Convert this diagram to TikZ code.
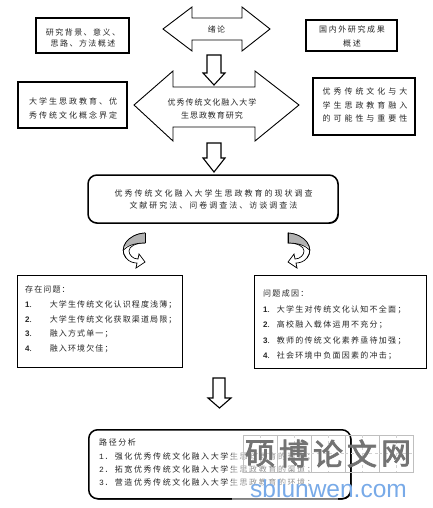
\documentclass[tikz,border=0pt]{standalone}
\usepackage{fontspec}
\newfontfamily\cjk{Noto Sans CJK SC}
\newfontfamily\cjkbold[FakeBold=2.5]{Noto Sans CJK SC}
\newfontfamily\numfont{Liberation Sans}
\newfontfamily\monofont{Liberation Mono}
\newcommand\cf[3]{\fontsize{#1}{#2}\selectfont\cjk\addfontfeatures{LetterSpace=#3}}
\newcommand\nb[1]{{\numfont\bfseries #1}}
\newcommand\nm[1]{{\monofont #1}}
\usetikzlibrary{shadows}
\definecolor{wmblue}{RGB}{120,170,232}
\begin{document}
\begin{tikzpicture}[x=1pt,y=-1pt,
  txt/.style={inner sep=0pt, text=black!85, align=center},
  ltxt/.style={inner sep=0pt, text=black!85, align=left, anchor=north west},
  box/.style={draw, line width=1.3pt, fill=white, inner sep=0pt,
     drop shadow={shadow xshift=0.8pt, shadow yshift=-0.8pt, fill=black, opacity=1}},
  rbox/.style={box, rounded corners=9pt},
  blockarrow/.style={draw, line width=0.9pt, fill=white, line join=miter},
  smallarrow/.style={draw, line width=1.1pt, fill=white, line join=miter},
  twist/.style={draw, line width=0.7pt, fill=white}
]
\useasboundingbox (0,0) rectangle (432,508);

% ---- row 1
\draw[blockarrow] (163,29) -- (192,7) -- (192,18) -- (242,18) -- (242,7) -- (270,29)
  -- (242,51) -- (242,40) -- (192,40) -- (192,51) -- cycle;
\node[txt, font=\cf{8}{11}{18}] (t1) at (216.5,29) {绪论};

\node[box, minimum width=93, minimum height=35] (b1) at (82.5,35.5) {};
\node[txt, font=\cf{8}{11}{18}] (t1a) at (83,38) {研究背景、意义、\\思路、方法概述};

\node[box, minimum width=91, minimum height=31] (b2) at (351.5,35.5) {};
\node[txt, font=\cf{8}{14}{20}] (t2a) at (352,36) {国内外研究成果\\概述};

% ---- row 2
\draw[blockarrow] (134,105) -- (173,71) -- (173,87) -- (255,87) -- (255,71) -- (299,105)
  -- (255,141) -- (255,127) -- (173,127) -- (173,141) -- cycle;
\node[txt, font=\cf{8}{13}{12}] (t3) at (212,108.5) {优秀传统文化融入大学\\生思政教育研究};

\draw[smallarrow] (207,55) -- (221,55) -- (221,73) -- (225,73) -- (214,85) -- (203,73) -- (207,73) -- cycle;

\node[box, minimum width=109, minimum height=46] (b4) at (72.5,105) {};
\node[txt, font=\cf{8}{14}{25}] (t4) at (73,108) {大学生思政教育、优\\秀传统文化概念界定};

\node[box, minimum width=102, minimum height=57] (b5) at (364,106.5) {};
\node[txt, font=\cf{8}{13.5}{37}] (t5) at (365,105) {优秀传统文化与大\\学生思政教育融入\\的可能性与重要性};

\draw[smallarrow] (207,143) -- (221,143) -- (221,158) -- (225,158) -- (214,172) -- (203,158) -- (207,158) -- cycle;

% ---- row 3
\node[rbox, line width=1.5pt, minimum width=250, minimum height=48] (b6) at (213,199) {};
\node[txt, font=\cf{8}{11.5}{25}] (t6) at (213.5,199.5) {优秀传统文化融入大学生思政教育的现状调查\\文献研究法、问卷调查法、访谈调查法};

% ---- curved arrows
\foreach \sx/\sc in {122/1, 311/-1}{
\begin{scope}[shift={(\sx,233)}, xscale=\sc]
  \path[twist] (23,0) .. controls (6,1) and (-4,15) .. (4,25) .. controls (7,29) and (12,30) .. (15,30)
     -- (14,35) -- (23,29) -- (17,21) -- (16,26)
     .. controls (11,26) and (7,22) .. (7,18) .. controls (7,13) and (14,10) .. (23,10) -- cycle;
  \begin{scope}
    \clip (23,0) .. controls (6,1) and (-4,15) .. (4,25) -- (7,18) .. controls (7,13) and (14,10) .. (23,10) -- cycle;
    \fill[black!30] (30,-5) -- (-5,-5) -- (-5,18) .. controls (4,12) and (12,10) .. (30,10) -- cycle;
  \end{scope}
  \draw[line width=0.7pt] (1.5,17) .. controls (5,13) and (12,10) .. (23,10);
  \draw[line width=0.7pt] (23,0) .. controls (6,1) and (-4,15) .. (4,25);
  \draw[line width=0.7pt] (23,0) -- (23,10);
\end{scope}
}

% ---- row 4
\node[box, minimum width=165, minimum height=92, anchor=north west] (b7) at (17,275) {};
\node[ltxt, font=\cf{8}{14.6}{14}] (t7) at (25,286) {存在问题：\\
\nb{1}.\hspace{18pt}大学生传统文化认识程度浅薄；\\
\nb{2}.\hspace{18pt}大学生传统文化获取渠道局限；\\
\nb{3}.\hspace{18pt}融入方式单一；\\
\nb{4}.\hspace{18pt}融入环境欠佳；};

\node[box, minimum width=172, minimum height=93, anchor=north west] (b8) at (254,275) {};
\node[ltxt, font=\cf{8}{15.5}{16}] (t8) at (263,290) {问题成因：\\
\nb{1}.\hspace{7pt}大学生对传统文化认知不全面；\\
\nb{2}.\hspace{7pt}高校融入载体运用不充分；\\
\nb{3}.\hspace{7pt}教师的传统文化素养亟待加强；\\
\nb{4}.\hspace{7pt}社会环境中负面因素的冲击；};

\draw[smallarrow] (213,378) -- (225,378) -- (225,398) -- (231,398) -- (219.5,408) -- (208,398) -- (213,398) -- cycle;

% ---- row 5
\node[rbox, line width=1.5pt, minimum width=262, minimum height=69, anchor=north west] (b9) at (88,429) {};
\node[ltxt, font=\cf{8}{13.3}{20}] (t9) at (99,439) {路径分析\\
\nm{1.}\hspace{6pt}强化优秀传统文化融入大学生思政教育的理念；\\
\nm{2.}\hspace{6pt}拓宽优秀传统文化融入大学生思政教育的渠道；\\
\nm{3.}\hspace{6pt}营造优秀传统文化融入大学生思政教育的环境；};

% ---- watermark
\fill[white, opacity=0.5] (232,433) rectangle (338,501);
\foreach \i in {0,...,4}{
  \draw[black!25, line width=0.6pt] (243+34*\i,435) rectangle (277+34*\i,472);
  \draw[black!18, line width=0.4pt, dashed] (260+34*\i,435) -- (260+34*\i,472)
     (243+34*\i,453.5) -- (277+34*\i,453.5);
}
\node[inner sep=0pt, text=black!55, font=\fontsize{30}{30}\selectfont\cjkbold] (wm1) at (260,453.5) {硕};
\node[inner sep=0pt, text=black!55, font=\fontsize{30}{30}\selectfont\cjkbold] (wm2) at (294,453.5) {博};
\node[inner sep=0pt, text=black!55, font=\fontsize{30}{30}\selectfont\cjkbold] (wm3) at (328,453.5) {论};
\node[inner sep=0pt, text=black!55, font=\fontsize{30}{30}\selectfont\cjkbold] (wm4) at (362,453.5) {文};
\node[inner sep=0pt, text=black!55, font=\fontsize{30}{30}\selectfont\cjkbold] (wm5) at (396,453.5) {网};
\node[inner sep=0pt, text=wmblue, font=\fontsize{24.5}{25}\selectfont\numfont, anchor=base west] (wm6) at (250,497) {sblunwen.com};
\end{tikzpicture}
\end{document}
